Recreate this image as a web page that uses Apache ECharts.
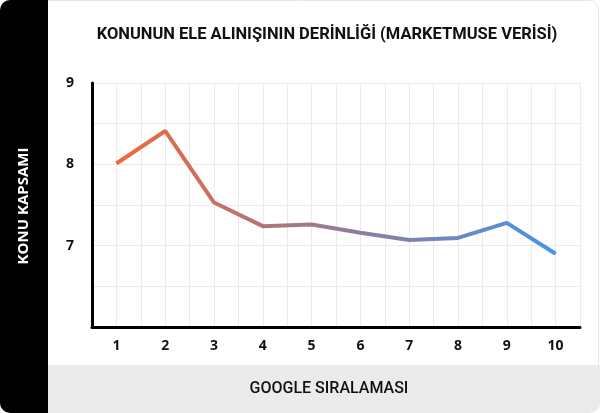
<!DOCTYPE html>
<html>
<head>
<meta charset="utf-8">
<script src="https://cdn.jsdelivr.net/npm/echarts@6/dist/echarts.min.js"></script>
<style>
html,body{margin:0;padding:0;background:#fff;}
#chart{width:600px;height:413px;}
</style>
</head>
<body>
<div id="chart"></div>
<script>
const ranks = [1, 2, 3, 4, 5, 6, 7, 8, 9, 10];
const coverage = [8.01, 8.41, 7.53, 7.24, 7.26, 7.16, 7.07, 7.095, 7.28, 6.90];
const yTickLabels = [7, 8, 9];

const chart = echarts.init(document.getElementById('chart'));
const option = {
  backgroundColor: '#ffffff',
  animation: false,
  title: {
    text: 'KONUNUN ELE ALINIŞININ DERİNLİĞİ (MARKETMUSE VERİSİ)',
    left: 322, top: 21, textAlign: 'center',
    textStyle: { fontFamily: 'Roboto', fontWeight: 'bold', fontSize: 16.5, color: '#111' }
  },
  graphic: [
    { type: 'rect', z: -10, shape: { x: 0.5, y: 0.5, width: 598, height: 411, r: 10 },
      style: { fill: '#fff', stroke: '#e6e6e6', lineWidth: 1 } },
    { type: 'rect', z: -5, shape: { x: 40, y: 365, width: 560, height: 48, r: [0, 0, 10, 0] },
      style: { fill: '#ebebeb' } },
    { type: 'rect', z: -4, shape: { x: 0, y: 0, width: 48, height: 413, r: [10, 0, 0, 10] },
      style: { fill: '#000' } },
    { type: 'text', x: 24, y: 206, rotation: Math.PI / 2,
      style: { text: 'KONU KAPSAMI', fill: '#fff', font: 'bold 15px "Open Sans"', align: 'center', verticalAlign: 'middle' } },
    { type: 'text', x: 329, y: 389,
      style: { text: 'GOOGLE SIRALAMASI', fill: '#111', font: '500 16px Roboto', align: 'center', verticalAlign: 'middle' } }
  ],
  grid: { left: 92, right: 20, top: 83, bottom: 86 },
  xAxis: {
    type: 'value', min: 0.5, max: 10.5, interval: 0.5,
    axisLine: { lineStyle: { color: '#000', width: 3 } },
    axisTick: { show: false },
    axisLabel: {
      margin: 12, color: '#111', fontFamily: 'Open Sans', fontWeight: 'bold', fontSize: 14,
      formatter: v => (ranks.indexOf(v) >= 0 ? String(v) : '')
    },
    splitLine: { show: true, lineStyle: { color: '#ebebeb', width: 1 } }
  },
  yAxis: {
    type: 'value', min: 6, max: 9, interval: 0.5,
    axisLine: { show: true, lineStyle: { color: '#000', width: 3 } },
    axisTick: { show: false },
    axisLabel: {
      margin: 18, color: '#111', fontFamily: 'Open Sans', fontWeight: 'bold', fontSize: 14,
      formatter: v => (yTickLabels.indexOf(v) >= 0 ? String(v) : '')
    },
    splitLine: { show: true, lineStyle: { color: '#ebebeb', width: 1 } }
  },
  series: [{
    type: 'line',
    data: ranks.map((r, i) => [r, coverage[i]]),
    symbol: 'none',
    lineStyle: {
      width: 4,
      color: new echarts.graphic.LinearGradient(0, 0, 1, 0, [
        { offset: 0, color: '#f0693a' },
        { offset: 0.45, color: '#9c7a8e' },
        { offset: 1, color: '#4a93e6' }
      ])
    }
  }]
};
chart.setOption(option);
</script>
</body>
</html>
